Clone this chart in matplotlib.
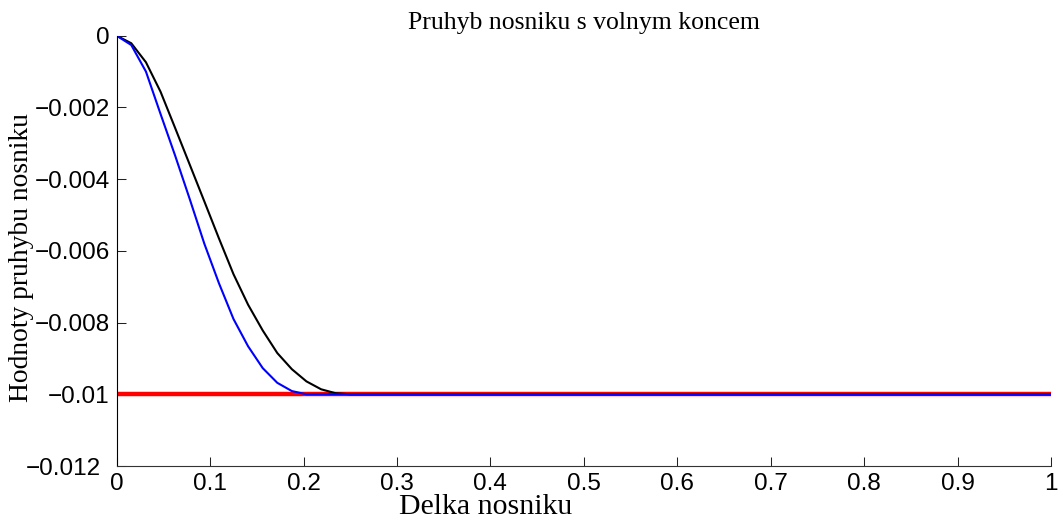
import matplotlib.pyplot as plt
from matplotlib.transforms import ScaledTranslation

# positions along the beam
x = [0.0, 0.0156, 0.0313, 0.0469, 0.0625, 0.0781, 0.0938, 0.1094, 0.125,
     0.1406, 0.1563, 0.1719, 0.1875, 0.2031, 0.2188, 0.2344, 0.25, 1.0]

# deflection curves
w_blue = [0.0, -0.00026, -0.0010, -0.00218, -0.00334, -0.00455, -0.0058, -0.0069,
          -0.0079, -0.00866, -0.00927, -0.00968, -0.00991, -0.0100, -0.0100,
          -0.0100, -0.0100, -0.0100]
w_black = [0.0, -0.00021, -0.00074, -0.00156, -0.00257, -0.00359, -0.00462, -0.00565,
           -0.00665, -0.00750, -0.00822, -0.00885, -0.00930, -0.00964, -0.00986,
           -0.00997, -0.0100, -0.0100]

# reference level
x_ref = [0.0, 1.0]
w_ref = [-0.01, -0.01]

xticks = [0, 0.1, 0.2, 0.3, 0.4, 0.5, 0.6, 0.7, 0.8, 0.9, 1]
xtick_labels = ['0', '0.1', '0.2', '0.3', '0.4', '0.5', '0.6', '0.7', '0.8', '0.9', '1']
yticks = [0, -0.002, -0.004, -0.006, -0.008, -0.01, -0.012]
ytick_labels = ['0', '\u22120.002', '\u22120.004', '\u22120.006', '\u22120.008',
                '\u22120.01', '\u22120.012']

fig = plt.figure(figsize=(10.58, 5.2), dpi=100)
ax = fig.add_axes([0.1103, 0.1038, 0.8831, 0.8275])

ax.plot(x_ref, w_ref, color='red', linewidth=3.2, solid_capstyle='butt')
ax.plot(x, w_black, color='black', linewidth=1.5)
ax.plot(x, w_blue, color='blue', linewidth=1.5)

ax.set_xlim(0, 1)
ax.set_ylim(-0.012, 0)
ax.set_xticks(xticks)
ax.set_xticklabels(xtick_labels, fontfamily='Liberation Sans', fontsize=17.5)
ax.set_yticks(yticks)
ax.set_yticklabels(ytick_labels, fontfamily='Liberation Sans', fontsize=17.5)
ax.tick_params(direction='in', length=6.5, width=0.75, colors='#222222',
               labelcolor='black')
ax.tick_params(axis='x', pad=5)
ax.tick_params(axis='y', pad=5)

# shift the bottom y label left so it clears the x origin label
lab = ax.get_yticklabels()[-1]
lab.set_transform(lab.get_transform() + ScaledTranslation(-9 / 100, 0, fig.dpi_scale_trans))

for side in ['top', 'right']:
    ax.spines[side].set_visible(False)
for side in ['left', 'bottom']:
    ax.spines[side].set_linewidth(0.8)
ax.spines['bottom'].set_color('#333333')

serif = 'Liberation Serif'
ax.set_title('Pruhyb nosniku s volnym koncem', fontfamily=serif, fontsize=18.5, pad=5)
ax.set_xlabel('Delka nosniku', fontfamily=serif, fontsize=21.5)
ax.set_ylabel('Hodnoty pruhybu nosniku', fontfamily=serif, fontsize=19.8)
ax.xaxis.set_label_coords(0.3945, -0.066)
ax.yaxis.set_label_coords(-0.0885, 0.485)

fig.savefig('out.png', dpi=100)
